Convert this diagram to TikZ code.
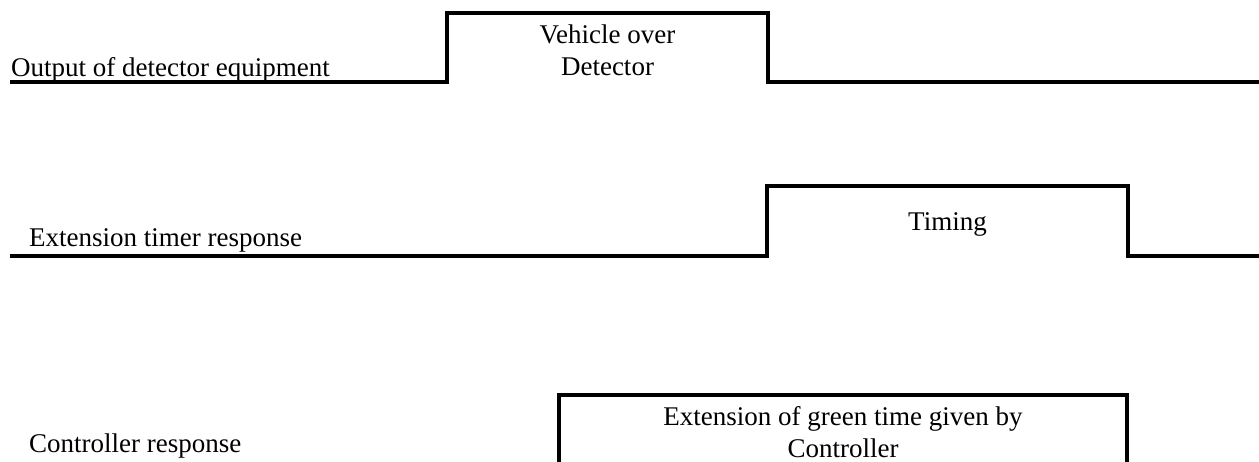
\documentclass[tikz,border=0pt]{standalone}
\usepackage{fontspec}
\setmainfont{Liberation Serif}
\begin{document}
\begin{tikzpicture}[x=1pt,y=-1pt,
  wave/.style={line width=3.2pt, line join=miter, line cap=butt},
  lbl/.style={inner sep=0pt, font=\fontsize{27}{32}\selectfont},
  boxtxt/.style={inner sep=0pt, align=center, font=\fontsize{27}{32}\selectfont}]
\useasboundingbox (0,0) rectangle (1259,462);
% row 1
\coordinate (a0) at (10,82);
\coordinate (a1) at (447,82);
\coordinate (a2) at (447,13);
\coordinate (a3) at (768,13);
\coordinate (a4) at (768,82);
\coordinate (a5) at (1259,82);
\draw[wave] (a0) -- (a1) -- (a2) -- (a3) -- (a4) -- (a5);
\node[lbl, anchor=base west] (l1) at (11,77) {Output of detector equipment};
\node[boxtxt] (t1) at (607.5,50) {Vehicle over\\Detector};
% row 2
\coordinate (b0) at (10,256);
\coordinate (b1) at (767,256);
\coordinate (b2) at (767,186);
\coordinate (b3) at (1128,186);
\coordinate (b4) at (1128,256);
\coordinate (b5) at (1259,256);
\draw[wave] (b0) -- (b1) -- (b2) -- (b3) -- (b4) -- (b5);
\node[lbl, anchor=base west] (l2) at (29,247) {Extension timer response};
\node[lbl, anchor=base] (t2) at (947.5,231) {Timing};
% row 3
\coordinate (c0) at (559,462);
\coordinate (c1) at (559,395);
\coordinate (c2) at (1127,395);
\coordinate (c3) at (1127,462);
\draw[wave] (c0) -- (c1) -- (c2) -- (c3);
\node[lbl, anchor=base west] (l3) at (29,452) {Controller response};
\node[boxtxt] (t3) at (843,432) {Extension of green time given by\\Controller};
\end{tikzpicture}
\end{document}
